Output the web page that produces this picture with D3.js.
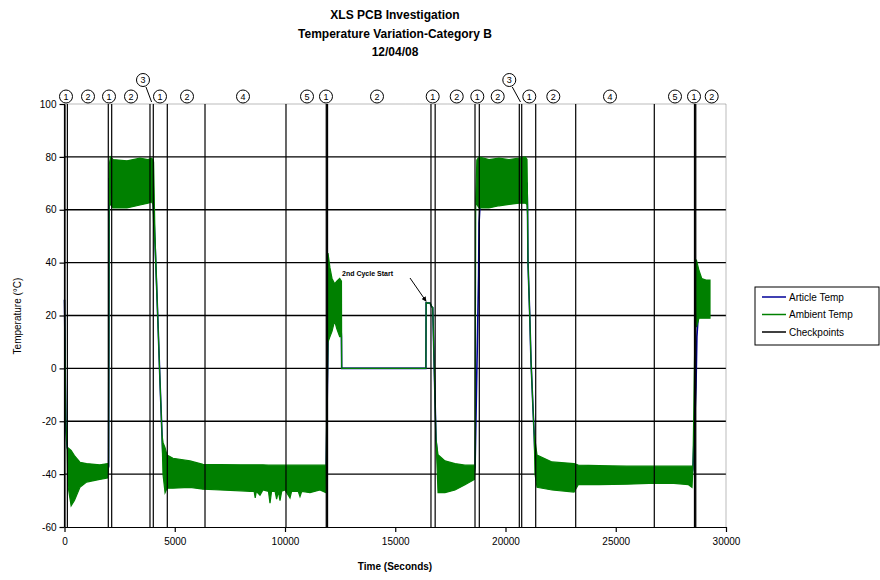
<!DOCTYPE html>
<html>
<head>
<meta charset="utf-8">
<script src="https://cdn.jsdelivr.net/npm/d3@7/dist/d3.min.js"></script>
<style>
  body { margin: 0; background: #fff; }
  text { font-family: "Liberation Sans", Arial, sans-serif; }
</style>
</head>
<body>
<script>
// Axis ticks
var xTicks = [0, 5000, 10000, 15000, 20000, 25000, 30000];
var yTicks = [100, 80, 60, 40, 20, 0, -20, -40, -60];

// Ambient Temp: time (s), lower and upper edge of the oscillation band (°C)
var ambTime = [0, 60, 120, 150, 300, 450, 700, 1000, 1600, 1950, 2000, 2030,
    2080, 2200, 2834, 3424, 3787, 3950, 4014, 4040, 4104, 4240, 4331, 4422, 4467,
    4560, 4650, 4921, 5692, 6281, 7052, 8000, 8413, 8600, 8650, 8700, 8866, 9000,
    9250, 9320, 9390, 9550, 9620, 9700, 9773, 9850, 10000, 10227, 10300, 10600,
    10680, 10760, 11134, 11587, 11850, 11870, 11950, 12040, 12132, 12250, 12350,
    12480, 12560, 12571, 16390, 16400, 16580, 16650, 16700, 16850, 16940, 17256,
    17710, 18163, 18590, 18620, 18650, 18700, 18800, 19252, 19705, 20159, 20612,
    20900, 20975, 21000, 21020, 21100, 21156, 21247, 21300, 21338, 21429, 22109,
    23107, 23300, 24240, 25500, 26508, 27500, 28300, 28458, 28500, 28639, 28660,
    28776, 28900, 29093, 29274];
var ambLow = [26, -20, -30, -44, -52, -50, -45, -43, -42, -41.5, -37, 76,
    62, 60.7, 60.7, 61.8, 62.5, 63, 62, 55, 47, 17, -5, -25, -40,
    -47, -45.3, -45.3, -45, -45.7, -46, -46.3, -46.5, -46.5, -49, -46.5, -48, -46,
    -46.5, -51, -46.5, -46.5, -49.5, -46.5, -50, -46.5, -46, -49, -46.5, -46.5,
    -48.5, -46.5, -47, -46, -47, -38, 10, 12, 14, 18, 15,
    12, 12, 0, 0, 24.8, 24.7, 23.4, 23, -27, -47, -47,
    -46, -44, -42, -37, 63, 62, 60.7, 60.7, 61.5, 62, 62.5,
    62.5, 62, 58, 40, 20, 3, -15, -25, -40, -45, -46,
    -46.8, -44, -44, -43.8, -43.5, -43.4, -44, -45, -38, 41, 15.6,
    19, 19, 19, 19];
var ambHigh = [26, -20, -30, -30, -31, -33, -35.5, -36, -36.5, -36, -37, 77,
    80, 79, 78.5, 79.5, 79, 79.5, 79, 78, 50, 17, -5, -25, -28,
    -30, -32.8, -34, -35, -36.3, -36.4, -36.5, -36.5, -36.5, -36.5, -36.5, -36.5, -36.5,
    -36.6, -36.6, -36.6, -36.6, -36.6, -36.6, -36.6, -36.6, -36.6, -36.6, -36.6, -36.6,
    -36.6, -36.6, -36.6, -36.6, -36.6, -38, 43.6, 38, 34, 32, 33,
    34, 33, 0, 0, 24.8, 24.7, 23.4, 23, -27, -32.7, -35,
    -36, -36.6, -36.6, -37, 64, 78.8, 80, 79, 79.5, 79, 79.5,
    80, 79, 62, 40, 20, 3, -15, -25, -27, -32.8, -35.4,
    -36, -36.6, -36.8, -37, -37, -37, -37, -37, -38, 41, 41,
    37, 34, 33.4, 33.4];

// Article Temp: time (s) and temperature (°C)
var artTime = [0, 60, 70, 120, 500, 1950, 2000, 2030, 2140, 3000, 3950, 4040,
    4104, 4240, 4331, 4422, 4467, 4600, 11850, 11870, 11950, 12040, 12500, 12560,
    12571, 16390, 16400, 16580, 16650, 16700, 16850, 16940, 17200, 18590, 18620,
    18780, 18800, 18900, 20900, 20975, 21000, 21020, 21100, 21156, 21247, 21300,
    21338, 21500, 28458, 28500, 28639, 28680, 28780, 29274];
var artTemp = [26, -20, -24, -30, -39, -39, -37, 72, 70, 71, 71, 60,
    48, 17, -5, -25, -34, -39, -41, -38, 10, 20, 22, 12,
    0, 0, 24.8, 24.7, 23.4, 23, -27, -36, -39, -39, -37,
    35, 55, 70, 70, 70, 60, 40, 20, 3, -15, -25,
    -33, -40, -40, -38, -7, 12, 25, 25];

// Checkpoint times (s)
var checkpoints = [0, 130, 1986, 2140, 3877, 4027, 4662, 6372, 10045,
    11870, 11900, 11930, 16620, 16810, 18617, 18812, 20626, 20735, 21370,
    23184, 26748, 28570, 28600, 28630];

// Circled stage numbers along the top
var stageLabels = ["1", "2", "1", "2", "3", "1", "2", "4", "5", "1", "2",
    "1", "2", "1", "2", "3", "1", "2", "4", "5", "1", "2"];
var stageTimes = [68, 1066, 2018, 3016, 3560, 4331, 5556, 8095, 10998, 11859, 14172,
    16698, 17787, 18721, 19646, 20172, 21079, 22168, 24739, 27687, 28549, 29351];
var stageRaised = [0, 0, 0, 0, 1, 0, 0, 0, 0, 0, 0,
    0, 0, 0, 0, 1, 0, 0, 0, 0, 0, 0];
var stageLeaderTo = [0, 0, 0, 0, 3950, 0, 0, 0, 0, 0, 0,
    0, 0, 0, 0, 20680, 0, 0, 0, 0, 0, 0];

var seriesNames = ["Article Temp", "Ambient Temp", "Checkpoints"];
var seriesColors = ["#000099", "#008000", "#000000"];

window.onload = function(){

    var w = 880, h = 580;
    var left = 64.5, right = 726, top = 104, bottom = 527;

    var svg = d3.select("body")
        .append("svg")
        .attr("width", w)
        .attr("height", h);

    var x = d3.scaleLinear().domain([0, 30000]).range([left, right]);
    var y = d3.scaleLinear().domain([-60, 100]).range([bottom, top]);

    // Horizontal gridlines
    svg.selectAll(".grid")
        .data(yTicks.filter(function(d){ return d < 100 && d > -60; }))
        .enter()
        .append("line")
        .attr("x1", left)
        .attr("x2", right)
        .attr("y1", function(d){ return y(d); })
        .attr("y2", function(d){ return y(d); })
        .style("stroke", "#000")
        .style("stroke-width", 1.3);

    // Plot area border (top and right dotted)
    svg.append("path")
        .attr("d", "M" + left + "," + top + "H" + right + "V" + bottom)
        .style("fill", "none")
        .style("stroke", "#777")
        .style("stroke-width", 1)
        .style("stroke-dasharray", "1,1");

    // Article Temp
    var artLine = d3.line()
        .x(function(d){ return x(artTime[d]); })
        .y(function(d){ return y(artTemp[d]); });

    svg.append("path")
        .attr("d", artLine(d3.range(artTime.length)))
        .style("fill", "none")
        .style("stroke", seriesColors[0])
        .style("stroke-width", 1.6);

    // Ambient Temp band
    var ambArea = d3.area()
        .x(function(d){ return x(ambTime[d]); })
        .y0(function(d){ return y(ambLow[d]); })
        .y1(function(d){ return y(ambHigh[d]); });

    svg.append("path")
        .attr("d", ambArea(d3.range(ambTime.length)))
        .style("fill", seriesColors[1])
        .style("stroke", seriesColors[1])
        .style("stroke-width", 1.2);

    // Checkpoints
    svg.selectAll(".checkpoint")
        .data(checkpoints)
        .enter()
        .append("line")
        .attr("x1", function(d){ return x(d); })
        .attr("x2", function(d){ return x(d); })
        .attr("y1", top)
        .attr("y2", bottom)
        .style("stroke", seriesColors[2])
        .style("stroke-width", 1.2);

    // Axes
    var yAxis = d3.axisLeft(y)
        .tickValues(yTicks)
        .tickSize(5)
        .tickSizeOuter(0)
        .tickPadding(3)
        .tickFormat(function(d){ return String(d); });

    var xAxis = d3.axisBottom(x)
        .tickValues(xTicks)
        .tickSize(5)
        .tickSizeOuter(0)
        .tickPadding(6)
        .tickFormat(function(d){ return String(d); });

    var gy = svg.append("g")
        .attr("transform", "translate(" + left + ",0)")
        .call(yAxis);

    var gx = svg.append("g")
        .attr("transform", "translate(0," + bottom + ")")
        .call(xAxis);

    [gx, gy].forEach(function(g){
        g.selectAll("path, line").style("stroke", "#000").style("stroke-width", 1.2);
        g.selectAll("text")
            .style("font-family", "'Liberation Sans', Arial, sans-serif")
            .style("font-size", "10px")
            .style("fill", "#000");
    });

    // Stage labels
    var stages = svg.selectAll(".stage")
        .data(d3.range(stageLabels.length))
        .enter()
        .append("g")
        .attr("transform", function(i){
            return "translate(" + x(stageTimes[i]) + "," + (stageRaised[i] ? 80 : 96.5) + ")";
        });

    // Leader lines for raised labels
    svg.selectAll(".leader")
        .data(d3.range(stageLabels.length).filter(function(i){ return stageRaised[i]; }))
        .enter()
        .append("line")
        .attr("x1", function(i){ return x(stageTimes[i]) + 3; })
        .attr("y1", 87)
        .attr("x2", function(i){ return x(stageLeaderTo[i]); })
        .attr("y2", 102)
        .style("stroke", "#000")
        .style("stroke-width", 1);

    stages.append("circle")
        .attr("r", 6.5)
        .style("fill", "#fff")
        .style("stroke", "#000")
        .style("stroke-width", 1);

    stages.append("text")
        .attr("text-anchor", "middle")
        .attr("dy", "0.35em")
        .style("font-size", "9px")
        .text(function(i){ return stageLabels[i]; });

    // Annotation
    svg.append("defs").append("marker")
        .attr("id", "arrow")
        .attr("viewBox", "0 0 10 10")
        .attr("refX", 9)
        .attr("refY", 5)
        .attr("markerWidth", 5)
        .attr("markerHeight", 5)
        .attr("orient", "auto")
        .append("path")
        .attr("d", "M0,0L10,5L0,10Z")
        .style("fill", "#000");

    svg.append("text")
        .attr("x", 342)
        .attr("y", 276)
        .style("font-size", "7px")
        .style("font-weight", "bold")
        .text("2nd Cycle Start");

    svg.append("line")
        .attr("x1", 410)
        .attr("y1", 278)
        .attr("x2", x(16400))
        .attr("y2", y(25) - 1)
        .attr("marker-end", "url(#arrow)")
        .style("stroke", "#000")
        .style("stroke-width", 1);

    // Titles
    var titles = ["XLS PCB Investigation", "Temperature Variation-Category B", "12/04/08"];
    svg.selectAll(".title")
        .data(titles)
        .enter()
        .append("text")
        .attr("text-anchor", "middle")
        .attr("x", 395)
        .attr("y", function(d, i){ return 19 + i * 18.5; })
        .style("font-size", "12px")
        .style("font-weight", "bold")
        .text(function(d){ return d; });

    svg.append("text")
        .attr("text-anchor", "middle")
        .attr("x", 395)
        .attr("y", 570)
        .style("font-size", "10px")
        .style("font-weight", "bold")
        .text("Time  (Seconds)");

    svg.append("text")
        .attr("text-anchor", "middle")
        .attr("transform", "translate(21,316) rotate(-90)")
        .style("font-size", "10px")
        .text("Temperature  (°C)");

    // Legend
    var legend = svg.append("g").attr("transform", "translate(755,287)");
    legend.append("rect")
        .attr("width", 124)
        .attr("height", 58)
        .style("fill", "#fff")
        .style("stroke", "#000")
        .style("stroke-width", 1);

    var items = legend.selectAll(".item")
        .data(seriesNames)
        .enter()
        .append("g")
        .attr("transform", function(d, i){ return "translate(0," + (10 + i * 17.5) + ")"; });

    items.append("line")
        .attr("x1", 7)
        .attr("x2", 31)
        .style("stroke", function(d, i){ return seriesColors[i]; })
        .style("stroke-width", 1.5);

    items.append("text")
        .attr("x", 34)
        .attr("dy", "0.35em")
        .style("font-size", "10px")
        .text(function(d){ return d; });
};
</script>
</body>
</html>
